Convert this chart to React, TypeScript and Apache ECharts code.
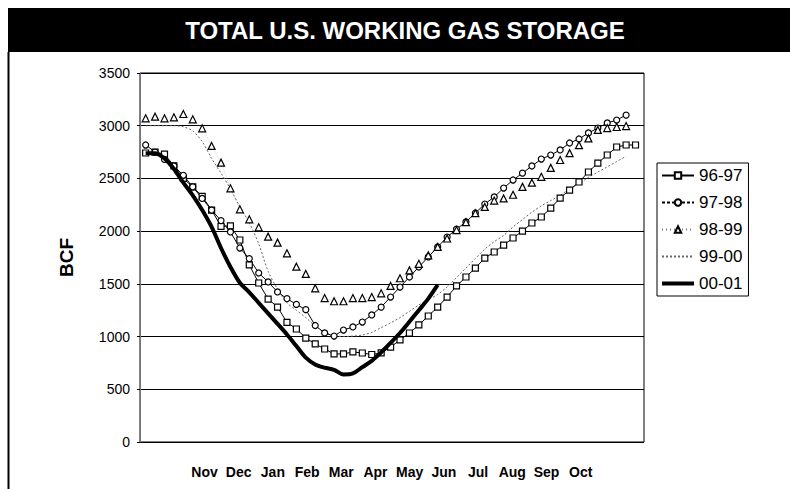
import React, { useEffect, useRef } from "react";
import * as echarts from "echarts";

const titleText = "TOTAL U.S. WORKING GAS STORAGE";
const months = ["Nov", "Dec", "Jan", "Feb", "Mar", "Apr", "May", "Jun", "Jul", "Aug", "Sep", "Oct"];
const seriesNames = ["96-97", "97-98", "98-99", "99-00", "00-01"];
const yMin = 0;
const yMax = 3500;
const yStep = 500;

// weekly storage, BCF (week 0 = start of November)
const s9697 = [2741, 2750, 2731, 2620, 2500, 2420, 2330, 2200, 2045, 2050,
  1916, 1680, 1508, 1356, 1280, 1135, 1072, 986, 930, 882,
  835, 835, 854, 844, 830, 845, 900, 968, 1034, 1110,
  1195, 1280, 1375, 1480, 1565, 1650, 1745, 1802, 1868, 1935,
  2001, 2077, 2134, 2219, 2314, 2390, 2466, 2561, 2646, 2722,
  2798, 2817, 2817];
const s9798 = [2817, 2750, 2680, 2618, 2530, 2420, 2310, 2200, 2100, 1992,
  1840, 1740, 1603, 1518, 1423, 1360, 1305, 1255, 1105, 1034,
  1005, 1062, 1091, 1138, 1205, 1280, 1375, 1470, 1565, 1660,
  1755, 1850, 1944, 2020, 2087, 2172, 2257, 2324, 2409, 2485,
  2550, 2618, 2684, 2722, 2770, 2836, 2874, 2931, 2978, 3026,
  3054, 3101];
const s9899 = [3070, 3086, 3070, 3080, 3111, 3061, 2975, 2808, 2650, 2406,
  2207, 2112, 2036, 1948, 1891, 1790, 1663, 1594, 1458, 1365,
  1335, 1335, 1365, 1365, 1375, 1410, 1480, 1553, 1628, 1690,
  1770, 1850, 1930, 2010, 2085, 2170, 2230, 2290, 2310, 2345,
  2420, 2460, 2515, 2600, 2675, 2740, 2815, 2880, 2960, 2978,
  2988, 2997];
const s9900 = [3000, 3000, 3000, 3000, 2990, 2950, 2850, 2690, 2550, 2400,
  2230, 2080, 1880, 1620, 1450, 1320, 1250, 1180, 1100, 1040,
  1010, 1000, 1005, 1015, 1040, 1085, 1130, 1180, 1240, 1300,
  1350, 1400, 1470, 1560, 1650, 1740, 1830, 1900, 1960, 2040,
  2110, 2180, 2240, 2290, 2340, 2400, 2450, 2510, 2560, 2610,
  2660, 2710];
const s0001 = [2740, 2740, 2690, 2590, 2460, 2340, 2200, 2040, 1840, 1660,
  1510, 1420, 1320, 1220, 1120, 1020, 910, 800, 735, 705,
  685, 640, 650, 710, 770, 850, 940, 1034, 1140, 1250,
  1360, 1490];

const toPairs = (arr: number[]) => arr.map((v, i) => [i, v]);

export default function App() {
  const ref = useRef<HTMLDivElement>(null);
  useEffect(() => {
    document.body.style.margin = "0";
    const chart = echarts.init(ref.current!, null, { renderer: "svg" });
    const font = 'Arial, "Liberation Sans", Helvetica, sans-serif';
    const hollow = { color: "#fff", borderColor: "#000", borderWidth: 1.2 };
    chart.setOption({
      animation: false,
      backgroundColor: "#fff",
      textStyle: { fontFamily: font },
      title: {
        text: titleText,
        left: 405,
        top: 18,
        padding: 0,
        textAlign: "center",
        textStyle: { color: "#fff", fontSize: 24, fontWeight: "bold", fontFamily: font },
        z: 10,
      },
      graphic: [
        { type: "rect", shape: { x: 8, y: 8, width: 782, height: 44 }, style: { fill: "#000" }, z: 1 },
        { type: "line", shape: { x1: 8.5, y1: 52, x2: 8.5, y2: 489 }, style: { stroke: "#000", lineWidth: 2 }, z: 1 },
      ],
      legend: {
        orient: "vertical",
        left: 657,
        top: 163,
        itemWidth: 32,
        itemHeight: 8,
        itemGap: 10,
        padding: [4, 6, 4, 3],
        borderColor: "#000",
        borderWidth: 1,
        textStyle: { fontSize: 17, color: "#000", fontFamily: font },
        data: [
          { name: seriesNames[0] },
          { name: seriesNames[1], lineStyle: { type: [3, 2] } },
          { name: seriesNames[2], lineStyle: { color: "#777", opacity: 1, type: [1, 3] } },
          { name: seriesNames[3], itemStyle: { opacity: 0 } },
          { name: seriesNames[4], itemStyle: { opacity: 0 }, lineStyle: { width: 4 } },
        ],
      },
      grid: [
        { left: 140, top: 73, width: 504, height: 369, show: true, borderColor: "#000", borderWidth: 1 },
        { left: 187.4, top: 73, width: 410.4, height: 369 },
      ],
      xAxis: [
        {
          gridIndex: 0, type: "value", min: -0.6, max: 52.9,
          axisLine: { show: false }, axisTick: { show: false },
          axisLabel: { show: false }, splitLine: { show: false },
        },
        {
          gridIndex: 1, type: "category", data: months, boundaryGap: true,
          axisLine: { show: false }, axisTick: { show: false },
          axisLabel: { interval: 0, margin: 23, fontSize: 14, fontWeight: "bold", color: "#000", fontFamily: font },
        },
      ],
      yAxis: [
        {
          gridIndex: 0, type: "value", min: yMin, max: yMax, interval: yStep,
          name: "BCF", nameLocation: "middle", nameGap: 64,
          nameTextStyle: { fontSize: 19, fontWeight: "bold", color: "#000", fontFamily: font },
          axisLine: { show: true, onZero: false, lineStyle: { color: "#777", width: 1 } },
          axisTick: { show: true, length: 3, lineStyle: { color: "#000" } },
          axisLabel: {
            fontSize: 14, color: "#000", margin: 10, fontFamily: font,
            formatter: (v: number) => String(v),
          },
          splitLine: { show: true, lineStyle: { color: "#000", width: 1 } },
        },
        { gridIndex: 1, type: "value", show: false },
      ],
      series: [
        {
          name: seriesNames[0], type: "line", data: toPairs(s9697),
          symbol: "rect", symbolSize: 6, itemStyle: hollow,
          lineStyle: { color: "#000", width: 1 }, z: 3,
        },
        {
          name: seriesNames[1], type: "line", data: toPairs(s9798),
          symbol: "circle", symbolSize: 6, itemStyle: hollow,
          lineStyle: { color: "#000", width: 1 }, z: 3,
        },
        {
          name: seriesNames[2], type: "line", data: toPairs(s9899),
          symbol: "triangle", symbolSize: 7, itemStyle: hollow,
          lineStyle: { color: "#999", width: 1, type: "dotted", opacity: 0.4 }, z: 3,
        },
        {
          name: seriesNames[3], type: "line", data: toPairs(s9900),
          symbol: "none", smooth: 0.3, itemStyle: { color: "#666" },
          lineStyle: { color: "#666", width: 1, type: [2, 2] }, z: 2,
        },
        {
          name: seriesNames[4], type: "line", data: toPairs(s0001),
          symbol: "none", smooth: 0.3, itemStyle: { color: "#000" },
          lineStyle: { color: "#000", width: 4 }, z: 4,
        },
      ],
    });
    return () => chart.dispose();
  }, []);
  return <div ref={ref} style={{ width: 790, height: 489 }} />;
}
